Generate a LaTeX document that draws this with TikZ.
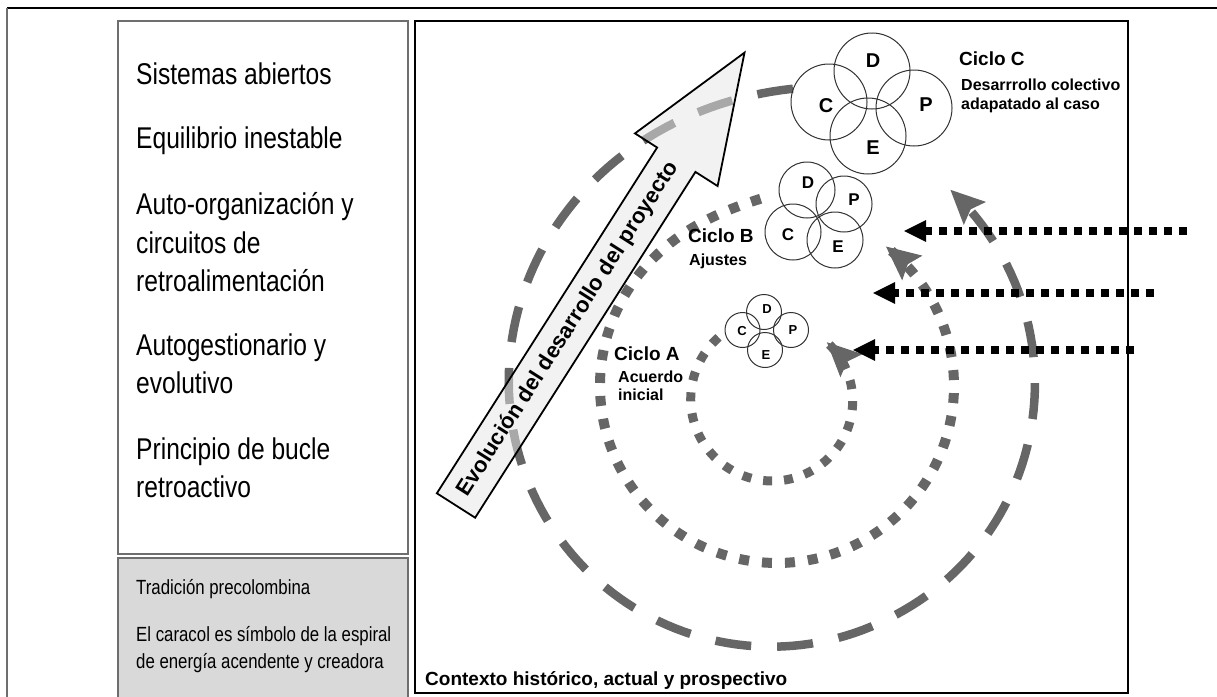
\documentclass[tikz,border=0pt]{standalone}
\usepackage{fontspec}
\setmainfont{Liberation Sans}
\newfontfamily\condfont{Liberation Sans}[FakeStretch=0.82]
\usetikzlibrary{arrows.meta}
\definecolor{spir}{RGB}{102,102,102}
\definecolor{boxline}{RGB}{110,110,110}
\definecolor{panelgray}{RGB}{217,217,217}
\definecolor{ringcol}{RGB}{50,50,50}
\definecolor{arrowfill}{RGB}{230,230,230}
\begin{document}
\begin{tikzpicture}[x=1pt,y=-1pt,
  panel/.style={draw=boxline, line width=1.8pt},
  lefttext/.style={anchor=mid west, inner sep=0pt, font=\condfont\fontsize{30}{36}\selectfont},
  graytext/.style={anchor=mid west, inner sep=0pt, font=\condfont\fontsize{20.5}{24}\selectfont},
  ciclo/.style={anchor=mid west, inner sep=0pt, font=\bfseries\fontsize{19}{22}\selectfont},
  sublabel/.style={anchor=mid west, inner sep=0pt, font=\bfseries\fontsize{16}{19}\selectfont},
  ring/.style={circle, draw=ringcol, line width=1pt, inner sep=0pt},
  bigletter/.style={inner sep=0pt, font=\bfseries\fontsize{20}{20}\selectfont},
  midletter/.style={inner sep=0pt, font=\bfseries\fontsize{17}{17}\selectfont},
  smallletter/.style={inner sep=0pt, font=\bfseries\fontsize{13}{13}\selectfont},
  spiralhead/.style={-{Stealth[length=34pt,width=32pt,inset=6pt,line width=0pt]}},
  spiralC/.style={draw=spir, line width=8.5pt, dash pattern=on 36pt off 26pt, spiralhead},
  spiralB/.style={draw=spir, line width=10pt, dash pattern=on 10pt off 13pt, spiralhead},
  spiralA/.style={draw=spir, line width=9pt, dash pattern=on 9pt off 12pt, spiralhead},
  inflow/.style={draw=black, line width=8pt, dash pattern=on 8pt off 7pt,
    -{Triangle[length=22pt,width=22pt,line width=0pt]}},
  blockarrow/.style={draw=black, line width=1.8pt, fill=arrowfill, fill opacity=0.52, line join=miter}
]
\useasboundingbox (0,0) rectangle (1217,696);
\clip (0,0) rectangle (1217,696);

% outer frame (top and left edges)
\draw[black, line width=1.5pt] (7,8) -- (1217,8);
\draw[boxline, line width=1.5pt] (7,8) -- (7,700);

% left panels
\draw[panel, fill=white] (118,21) rectangle (408,554);
\draw[panel, fill=panelgray] (118,558) rectangle (408,710);

\node[lefttext] (t1) at (136,82) {Sistemas abiertos};
\node[lefttext] (t2) at (136,146) {Equilibrio inestable};
\node[lefttext] (t3a) at (136,212) {Auto-organización y};
\node[lefttext] (t3b) at (136,251) {circuitos de};
\node[lefttext] (t3c) at (136,289) {retroalimentación};
\node[lefttext] (t4a) at (136,353) {Autogestionario y};
\node[lefttext] (t4b) at (136,391) {evolutivo};
\node[lefttext] (t5a) at (136,457) {Principio de bucle};
\node[lefttext] (t5b) at (136,495) {retroactivo};

\node[graytext] (g1) at (136,592) {Tradición precolombina};
\node[graytext] (g2) at (136,639) {El caracol es símbolo de la espiral};
\node[graytext] (g3) at (136,666) {de energía acendente y creadora};

% main panel
\draw[black, line width=2.4pt] (415,21) rectangle (1128,693);
\node[anchor=mid west, inner sep=0pt, font=\bfseries\fontsize{19}{22}\selectfont] (ctx) at (425,683) {Contexto histórico, actual y prospectivo};

% outer spiral (Ciclo C)
\draw[spiralC] plot[domain=86:408, samples=160, variable=\t]
  ({772+(258+42*exp(-(\t-86)/45)+0.08*max(\t-300,0))*cos(\t)},
   {388-(258+42*exp(-(\t-86)/45)+0.08*max(\t-300,0))*sin(\t)});

% block arrow
\begin{scope}[shift={(456,505.5)}, rotate=57.5]
  \draw[blockarrow] (0,-22.7) -- (410,-22.7) -- (410,-49) -- (537,0) -- (410,49) -- (410,22.7) -- (0,22.7) -- cycle;
  \node[rotate=57.5, inner sep=0pt, font=\bfseries\fontsize{22}{24}\selectfont] (evol) at (209,0) {Evolución del desarrollo del proyecto};
\end{scope}

% middle spiral (Ciclo B)
\draw[spiralB] plot[domain=95:412, samples=140, variable=\t]
  ({777+(177+11*exp(-(\t-95)/15))*cos(\t)},
   {386-(177+11*exp(-(\t-95)/15))*sin(\t)});

% inner spiral (Ciclo A)
\draw[spiralA] plot[domain=131:407, samples=110, variable=\t]
  ({773+(83-4*(\t-131)/276)*cos(\t)},
   {400-(83-4*(\t-131)/276)*sin(\t)});

% Ciclo C cluster
\node[ring, minimum size=76pt] (cD) at (872,71) {};
\node[ring, minimum size=76pt] (cC) at (829,102) {};
\node[ring, minimum size=76pt] (cP) at (914,108) {};
\node[ring, minimum size=76pt] (cE) at (868,136) {};
\node[bigletter] (lcD) at (873,61) {D};
\node[bigletter] (lcC) at (826,106) {C};
\node[bigletter] (lcP) at (926,105) {P};
\node[bigletter] (lcE) at (873,148) {E};

% Ciclo B cluster
\node[ring, minimum size=56pt] (bD) at (807,190) {};
\node[ring, minimum size=56pt] (bP) at (844,204) {};
\node[ring, minimum size=56pt] (bC) at (793,232) {};
\node[ring, minimum size=56pt] (bE) at (835,240) {};
\node[midletter] (lbD) at (808,183) {D};
\node[midletter] (lbP) at (854,200) {P};
\node[midletter] (lbC) at (788,235) {C};
\node[midletter] (lbE) at (838,247) {E};

% Ciclo A cluster
\node[ring, minimum size=35pt] (aC) at (742.5,330) {};
\node[ring, minimum size=35pt] (aD) at (764,312) {};
\node[ring, minimum size=35pt] (aP) at (791,330) {};
\node[ring, minimum size=35pt] (aE) at (765,350) {};
\node[smallletter] (laD) at (767,309) {D};
\node[smallletter] (laC) at (742,331) {C};
\node[smallletter] (laP) at (793,330) {P};
\node[smallletter] (laE) at (766,355) {E};

% labels
\node[ciclo] (cycC) at (959,63) {Ciclo C};
\node[sublabel] (subC1) at (961,88) {Desarrrollo colectivo};
\node[sublabel] (subC2) at (961,107) {adapatado al caso};
\node[ciclo] (cycB) at (688,240) {Ciclo B};
\node[sublabel] (subB) at (689,263) {Ajustes};
\node[ciclo] (cycA) at (614,358) {Ciclo A};
\node[sublabel] (subA1) at (618,380) {Acuerdo};
\node[sublabel] (subA2) at (618,398) {inicial};

% incoming dotted arrows
\coordinate (in1s) at (1187,231);
\coordinate (in1e) at (904,231);
\coordinate (in2s) at (1154,293);
\coordinate (in2e) at (873,293);
\coordinate (in3s) at (1134,350);
\coordinate (in3e) at (853,350);
\draw[inflow] (in1s) -- (in1e);
\draw[inflow] (in2s) -- (in2e);
\draw[inflow] (in3s) -- (in3e);
\end{tikzpicture}
\end{document}
